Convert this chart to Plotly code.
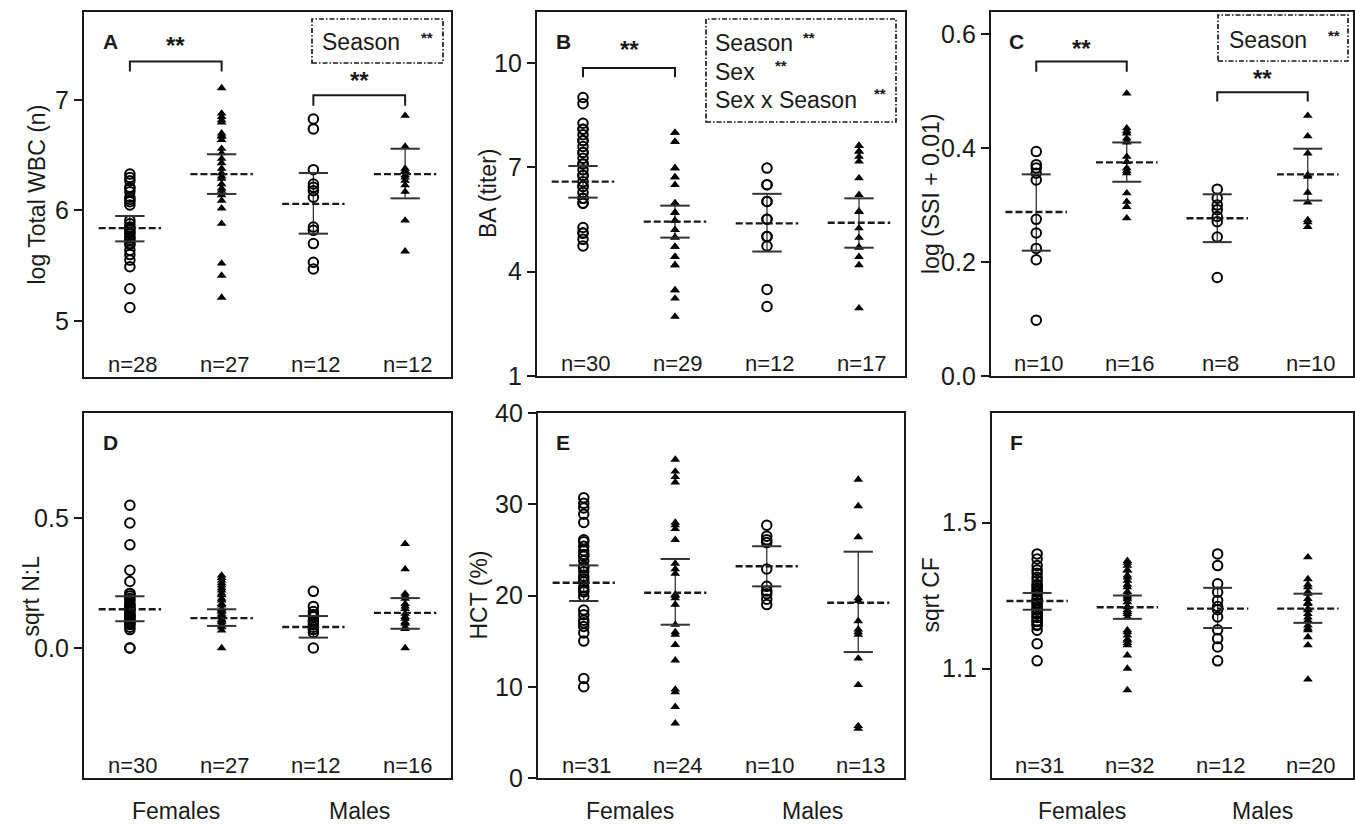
import plotly.graph_objects as go

W, H = 1355, 826
FONT = "Liberation Sans, Arial, sans-serif"
INK = "#1a1a1a"

# ---------------- data ----------------
cats = [1, 2, 3, 4]
sex_labels = ["Females", "Males"]
panel_letters = ["A", "B", "C", "D", "E", "F"]
y_titles = ["log Total WBC (n)", "BA (titer)", "log (SSI + 0.01)", "sqrt N:L", "HCT (%)", "sqrt CF"]

A_g1 = [6.33, 6.30, 6.27, 6.21, 6.20, 6.17, 6.12, 6.10, 6.08, 6.05, 5.91, 5.88, 5.85, 5.84, 5.82,
        5.80, 5.79, 5.76, 5.75, 5.73, 5.70, 5.69, 5.64, 5.60, 5.55, 5.49, 5.29, 5.12]
A_g2 = [7.11, 6.88, 6.85, 6.82, 6.80, 6.70, 6.68, 6.67, 6.64, 6.56, 6.52, 6.47, 6.43, 6.38, 6.34,
        6.31, 6.29, 6.24, 6.20, 6.18, 6.14, 6.09, 6.02, 5.88, 5.52, 5.41, 5.21]
A_g3 = [6.83, 6.74, 6.37, 6.24, 6.21, 6.18, 6.12, 5.85, 5.82, 5.70, 5.53, 5.47]
A_g4 = [6.86, 6.58, 6.38, 6.36, 6.35, 6.32, 6.30, 6.27, 6.23, 6.17, 5.91, 5.63]
A_mean = [5.84, 6.33, 6.06, 6.33]
A_lo = [5.72, 6.15, 5.79, 6.11]
A_hi = [5.95, 6.51, 6.34, 6.56]
A_n = [28, 27, 12, 12]

B_g1 = [9.01, 8.83, 8.27, 8.10, 8.10, 7.94, 7.77, 7.77, 7.60, 7.43, 7.43, 7.26, 7.10, 7.10, 6.93,
        6.77, 6.77, 6.59, 6.45, 6.45, 6.28, 6.11, 6.11, 5.97, 5.97, 5.27, 5.11, 5.11, 4.93, 4.74]
B_g2 = [8.00, 8.00, 7.74, 7.74, 6.98, 6.98, 6.72, 6.72, 6.50, 5.97, 5.97, 5.70, 5.70, 5.47, 5.47,
        5.20, 5.20, 4.99, 4.99, 4.72, 4.72, 4.43, 4.43, 4.19, 4.19, 3.47, 3.47, 3.23, 2.71]
B_g3 = [6.98, 6.50, 6.50, 6.02, 6.02, 5.51, 5.51, 5.01, 5.01, 4.74, 3.49, 3.00]
B_g4 = [7.62, 7.62, 7.46, 7.46, 7.31, 7.17, 6.69, 6.21, 5.73, 5.73, 5.25, 4.98, 4.70, 4.70, 4.43,
        4.19, 2.95]
B_mean = [6.59, 5.44, 5.39, 5.41]
B_lo = [6.13, 4.98, 4.58, 4.69]
B_hi = [7.04, 5.90, 6.24, 6.11]
B_n = [30, 29, 12, 17]

C_g1 = [0.394, 0.371, 0.365, 0.356, 0.344, 0.275, 0.251, 0.224, 0.204, 0.098]
C_g2 = [0.496, 0.435, 0.430, 0.426, 0.417, 0.412, 0.410, 0.385, 0.376, 0.365, 0.360, 0.356,
        0.321, 0.306, 0.297, 0.277]
C_g3 = [0.328, 0.312, 0.300, 0.292, 0.280, 0.271, 0.244, 0.173]
C_g4 = [0.457, 0.421, 0.391, 0.353, 0.350, 0.322, 0.305, 0.274, 0.270, 0.262]
C_mean = [0.288, 0.375, 0.277, 0.354]
C_lo = [0.220, 0.341, 0.235, 0.308]
C_hi = [0.354, 0.410, 0.319, 0.399]
C_n = [10, 16, 8, 10]

D_g1 = [0.549, 0.481, 0.397, 0.299, 0.256, 0.21, 0.209, 0.20, 0.19, 0.183, 0.17, 0.164, 0.16,
        0.15, 0.15, 0.145, 0.14, 0.13, 0.129, 0.12, 0.12, 0.113, 0.11, 0.10, 0.094, 0.09, 0.08,
        0.071, 0.0, 0.0]
D_g2 = [0.279, 0.27, 0.26, 0.25, 0.241, 0.23, 0.222, 0.21, 0.203, 0.19, 0.183, 0.17, 0.164, 0.15,
        0.145, 0.14, 0.13, 0.126, 0.12, 0.11, 0.106, 0.10, 0.09, 0.087, 0.08, 0.068, 0.0]
D_g3 = [0.218, 0.16, 0.14, 0.129, 0.12, 0.106, 0.10, 0.09, 0.08, 0.071, 0.06, 0.0]
D_g4 = [0.401, 0.303, 0.209, 0.20, 0.19, 0.17, 0.16, 0.151, 0.132, 0.12, 0.113, 0.10, 0.094,
        0.08, 0.074, 0.0]
D_mean = [0.149, 0.115, 0.081, 0.135]
D_lo = [0.103, 0.085, 0.040, 0.074]
D_hi = [0.199, 0.149, 0.123, 0.192]
D_n = [30, 27, 12, 16]

E_g1 = [30.7, 30.1, 29.6, 28.9, 28.0, 26.1, 25.9, 25.4, 24.9, 24.5, 24.3, 23.8, 23.2, 23.0, 22.6,
        22.1, 21.8, 21.5, 20.9, 20.6, 20.4, 19.9, 18.4, 17.9, 17.3, 17.0, 16.6, 15.9, 15.0, 10.9, 10.0]
E_g2 = [34.9, 33.6, 33.0, 32.4, 28.0, 27.7, 27.3, 26.1, 23.5, 22.9, 22.4, 20.1, 20.0, 19.7, 19.0,
        16.8, 16.0, 15.7, 14.6, 12.9, 9.7, 9.4, 7.8, 6.0]
E_g3 = [27.7, 26.5, 26.1, 25.8, 22.9, 21.0, 20.5, 20.2, 19.6, 19.0]
E_g4 = [32.7, 29.8, 26.4, 19.7, 19.4, 17.2, 16.3, 16.0, 15.7, 13.1, 10.2, 5.7, 5.4]
E_mean = [21.4, 20.3, 23.2, 19.2]
E_lo = [19.4, 16.8, 21.0, 13.8]
E_hi = [23.3, 24.0, 25.4, 24.8]
E_n = [31, 24, 10, 13]

F_g1 = [1.414, 1.40, 1.382, 1.37, 1.361, 1.35, 1.341, 1.33, 1.327, 1.32, 1.314, 1.31, 1.300, 1.29,
        1.288, 1.28, 1.277, 1.27, 1.264, 1.26, 1.252, 1.25, 1.241, 1.24, 1.229, 1.23, 1.218, 1.22,
        1.205, 1.168, 1.121]
F_g2 = [1.395, 1.39, 1.382, 1.37, 1.368, 1.355, 1.35, 1.341, 1.33, 1.323, 1.31, 1.309, 1.30, 1.295,
        1.29, 1.282, 1.27, 1.268, 1.26, 1.255, 1.25, 1.241, 1.205, 1.20, 1.191, 1.18, 1.177, 1.17,
        1.164, 1.136, 1.100, 1.041]
F_g3 = [1.414, 1.382, 1.332, 1.309, 1.286, 1.27, 1.261, 1.241, 1.206, 1.182, 1.159, 1.121]
F_g4 = [1.405, 1.345, 1.33, 1.323, 1.31, 1.305, 1.291, 1.28, 1.277, 1.264, 1.26, 1.25, 1.24, 1.232,
        1.218, 1.21, 1.205, 1.186, 1.164, 1.070]
F_mean = [1.285, 1.268, 1.264, 1.264]
F_lo = [1.261, 1.236, 1.211, 1.225]
F_hi = [1.307, 1.300, 1.321, 1.305]
F_n = [31, 32, 12, 20]

# y axis ticks
A_ticks = [5, 6, 7]
B_ticks = [1, 4, 7, 10]
C_ticks = [0.0, 0.2, 0.4, 0.6]
C_ticktext = ["0.0", "0.2", "0.4", "0.6"]
D_ticks = [0.0, 0.5]
D_ticktext = ["0.0", "0.5"]
E_ticks = [0, 10, 20, 30, 40]
F_ticks = [1.1, 1.5]

# significance brackets: (panel, from cat, to cat, bar y, drop y, star y)
brackets = [
    (0, 1, 2, 7.35, 7.26, 7.50),
    (0, 3, 4, 7.045, 6.95, 7.18),
    (1, 1, 2, 9.86, 9.59, 10.38),
    (2, 1, 2, 0.552, 0.534, 0.575),
    (2, 3, 4, 0.498, 0.482, 0.523),
]

# ---------------- layout geometry (pixels) ----------------
panels = [
    dict(groups=[A_g1, A_g2, A_g3, A_g4], mean=A_mean, lo=A_lo, hi=A_hi, n=A_n,
         yr=[4.49, 7.80], tv=A_ticks, tt=[str(v) for v in A_ticks], box=(84, 451, 12, 377), tx=37),
    dict(groups=[B_g1, B_g2, B_g3, B_g4], mean=B_mean, lo=B_lo, hi=B_hi, n=B_n,
         yr=[1, 11.47], tv=B_ticks, tt=[str(v) for v in B_ticks], box=(537, 905, 12, 376), tx=488),
    dict(groups=[C_g1, C_g2, C_g3, C_g4], mean=C_mean, lo=C_lo, hi=C_hi, n=C_n,
         yr=[0, 0.639], tv=C_ticks, tt=C_ticktext, box=(991, 1353, 12, 376), tx=931),
    dict(groups=[D_g1, D_g2, D_g3, D_g4], mean=D_mean, lo=D_lo, hi=D_hi, n=D_n,
         yr=[-0.5, 0.904], tv=D_ticks, tt=D_ticktext, box=(84, 451, 413, 778), tx=30),
    dict(groups=[E_g1, E_g2, E_g3, E_g4], mean=E_mean, lo=E_lo, hi=E_hi, n=E_n,
         yr=[0, 40], tv=E_ticks, tt=[str(v) for v in E_ticks], box=(538, 904, 413, 778), tx=478),
    dict(groups=[F_g1, F_g2, F_g3, F_g4], mean=F_mean, lo=F_lo, hi=F_hi, n=F_n,
         yr=[0.8, 1.8], tv=F_ticks, tt=["1.1", "1.5"], box=(992, 1353, 413, 778), tx=930),
]

fig = go.Figure()
layout = dict(width=W, height=H, margin=dict(l=0, r=0, t=0, b=0, pad=0, autoexpand=False),
              paper_bgcolor="white", plot_bgcolor="white", showlegend=False,
              font=dict(family=FONT, color=INK))
annotations = []
shapes = []

MEAN_HW = 0.34
CI_HW = 0.16

for i, p in enumerate(panels):
    k = "" if i == 0 else str(i + 1)
    xa, ya = "x" + k, "y" + k
    x0, x1, y0, y1 = p["box"]
    layout["xaxis" + k] = dict(domain=[x0 / W, x1 / W], anchor=ya, range=[0.5, 4.5],
                               showline=True, mirror=True, linecolor=INK, linewidth=2.4,
                               showgrid=False, zeroline=False, showticklabels=False, ticks="",
                               automargin=False, fixedrange=True)
    layout["yaxis" + k] = dict(domain=[1 - y1 / H, 1 - y0 / H], anchor=xa, range=p["yr"],
                               showline=True, mirror=True, linecolor=INK, linewidth=2.4,
                               showgrid=False, zeroline=False, ticks="outside", ticklen=8,
                               tickwidth=2, tickcolor=INK, tickvals=p["tv"], ticktext=p["tt"],
                               tickfont=dict(size=25, family=FONT, color=INK),
                               automargin=False, fixedrange=True)
    for g, vals in enumerate(p["groups"]):
        c = cats[g]
        if g % 2 == 0:
            mk = dict(symbol="circle-open", size=9.5, color="black", line=dict(width=2, color="black"))
        else:
            mk = dict(symbol="triangle-up", size=8.5, color="black", line=dict(width=0))
        fig.add_trace(go.Scatter(x=[c, c], y=[p["lo"][g], p["hi"][g]], xaxis=xa, yaxis=ya,
                                 mode="lines", line=dict(color="#333", width=1.3), hoverinfo="skip"))
        fig.add_trace(go.Scatter(x=[c] * len(vals), y=vals, xaxis=xa, yaxis=ya, mode="markers",
                                 marker=mk, hoverinfo="y"))
        fig.add_trace(go.Scatter(x=[c - MEAN_HW, c + MEAN_HW], y=[p["mean"][g]] * 2, xaxis=xa, yaxis=ya,
                                 mode="lines", line=dict(color=INK, width=2.4, dash="7px,3px"),
                                 hoverinfo="skip"))
        for v in (p["lo"][g], p["hi"][g]):
            fig.add_trace(go.Scatter(x=[c - CI_HW, c + CI_HW], y=[v, v], xaxis=xa, yaxis=ya,
                                     mode="lines", line=dict(color="#333", width=2), hoverinfo="skip"))
        annotations.append(dict(x=c, xref=xa, y=0.033, yref=ya + " domain", xshift=3,
                                text="n=%d" % p["n"][g], showarrow=False,
                                font=dict(size=22, family=FONT, color=INK),
                                xanchor="center", yanchor="middle"))
    annotations.append(dict(x=0.045, xref=xa + " domain", y=0.92, yref=ya + " domain",
                            text="<b>%s</b>" % panel_letters[i], showarrow=False,
                            font=dict(size=21, family=FONT, color=INK), xanchor="left", yanchor="middle"))
    annotations.append(dict(x=p["tx"] / W, xref="paper", y=1 - (y0 + y1) / 2 / H, yref="paper",
                            text=y_titles[i], textangle=-90, showarrow=False,
                            font=dict(size=23, family=FONT, color=INK), xanchor="center", yanchor="middle"))

for (pi, c0, c1, yb, yd, ys) in brackets:
    k = "" if pi == 0 else str(pi + 1)
    fig.add_trace(go.Scatter(x=[c0, c0, c1, c1], y=[yd, yb, yb, yd], xaxis="x" + k, yaxis="y" + k,
                             mode="lines", line=dict(color=INK, width=2), hoverinfo="skip"))
    annotations.append(dict(x=(c0 + c1) / 2, xref="x" + k, y=ys, yref="y" + k, text="<b>**</b>",
                            showarrow=False, font=dict(size=24, family=FONT, color=INK),
                            xanchor="center", yanchor="middle"))

boxes = [(312, 443, 19, 63), (706, 896, 19, 122), (1218, 1348, 15, 61)]
for (bx0, bx1, by0, by1) in boxes:
    shapes.append(dict(type="rect", xref="paper", yref="paper", x0=bx0 / W, x1=bx1 / W,
                       y0=1 - by1 / H, y1=1 - by0 / H,
                       line=dict(color=INK, width=1.7, dash="5px,2px,1.5px,2px")))

box_texts = [
    (320, 42, "Season", 419, 37),
    (713, 43, "Season", 801, 37),
    (713, 72, "Sex", 773, 66),
    (713, 100, "Sex x Season", 872, 94),
    (1227, 40, "Season", 1326, 35),
]
for (tx, ty, txt, sx, sy) in box_texts:
    annotations.append(dict(x=tx / W, xref="paper", y=1 - ty / H, yref="paper", text=txt,
                            showarrow=False, font=dict(size=23, family=FONT, color=INK),
                            xanchor="left", yanchor="middle"))
    annotations.append(dict(x=sx / W, xref="paper", y=1 - sy / H, yref="paper", text="<b>**</b>",
                            showarrow=False, font=dict(size=15, family=FONT, color=INK),
                            xanchor="left", yanchor="middle"))

for ax in ["x4", "x5", "x6"]:
    for j, lab in enumerate(sex_labels):
        annotations.append(dict(x=1.5 + 2 * j, xref=ax, y=1 - 811 / H, yref="paper", text=lab,
                                showarrow=False, font=dict(size=23, family=FONT, color=INK),
                                xanchor="center", yanchor="middle"))

layout["annotations"] = annotations
layout["shapes"] = shapes
fig.update_layout(**layout)
fig.write_html("out.html", config={"displayModeBar": False},
               post_script="document.body.style.margin='0px';document.body.style.overflow='hidden';")
